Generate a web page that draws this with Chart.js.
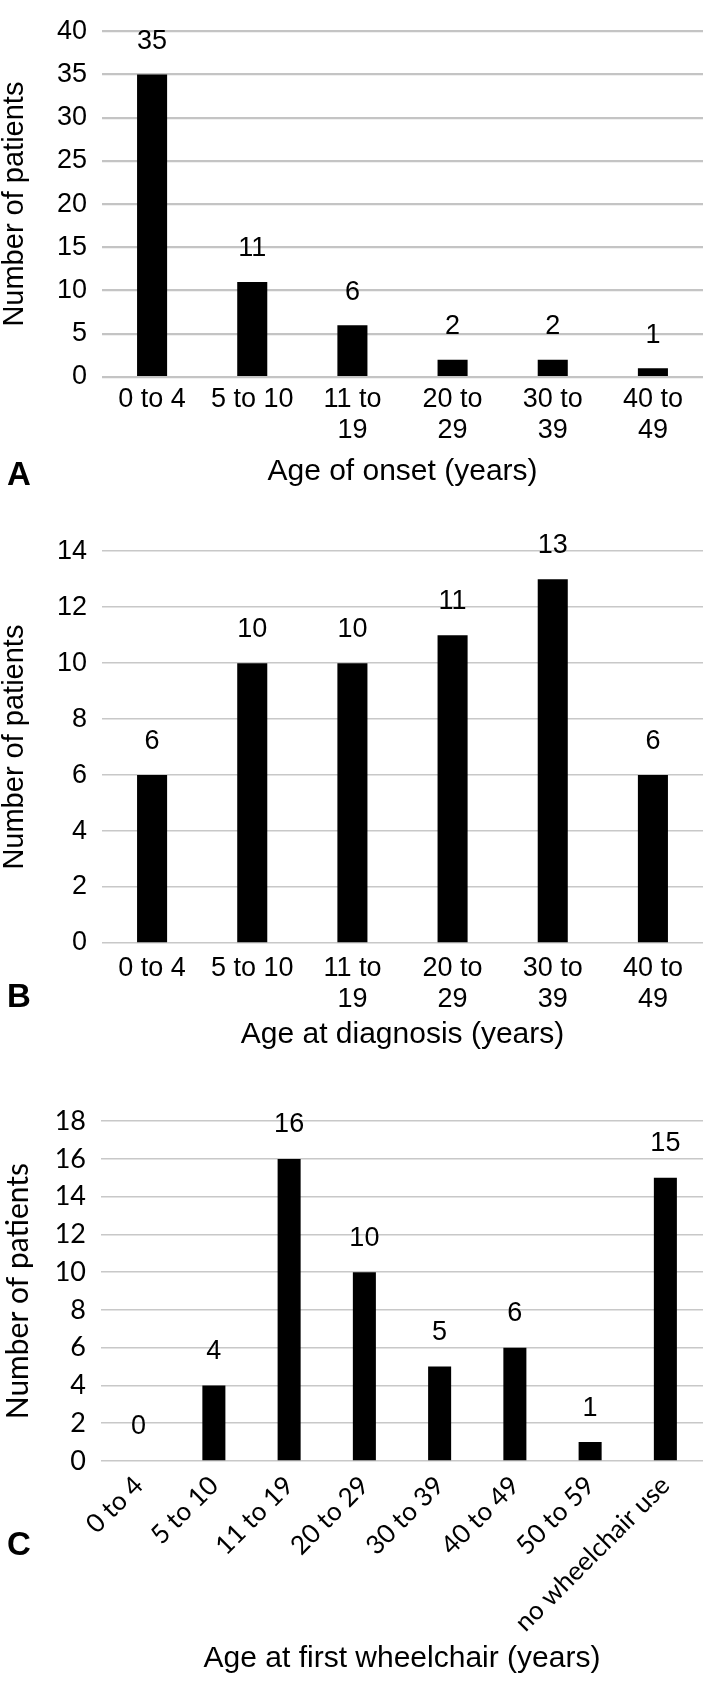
<!DOCTYPE html>
<html>
<head>
<meta charset="utf-8">
<script src="https://cdn.jsdelivr.net/npm/chart.js@4.4.1/dist/chart.umd.min.js"></script>
<style>
  html, body { margin: 0; padding: 0; background: #fff; }
  body { width: 709px; height: 1687px; position: relative; overflow: hidden; }
  .panel { position: absolute; left: 0; width: 709px; }
  .letter { position: absolute; left: 7px; font-family: "Liberation Sans", Arial, sans-serif;
            font-weight: bold; font-size: 33px; line-height: 33px; color: #000; }
</style>
</head>
<body>
<div class="panel" style="top:0px;height:490px"><canvas id="chartA" width="709" height="490"></canvas></div>
<div class="panel" style="top:520px;height:533px"><canvas id="chartB" width="709" height="533"></canvas></div>
<div class="panel" style="top:1090px;height:587px"><canvas id="chartC" width="709" height="587"></canvas></div>
<div class="letter" style="top:457px">A</div>
<div class="letter" style="top:979px">B</div>
<div class="letter" style="top:1527px">C</div>
<script>
// ---- data ----
const onsetCategories = ['0 to 4', '5 to 10', ['11 to', '19'], ['20 to', '29'], ['30 to', '39'], ['40 to', '49']];
const onsetCounts = [35, 11, 6, 2, 2, 1];
const onsetAxisMax = 40;
const onsetAxisStep = 5;

const diagnosisCategories = ['0 to 4', '5 to 10', ['11 to', '19'], ['20 to', '29'], ['30 to', '39'], ['40 to', '49']];
const diagnosisCounts = [6, 10, 10, 11, 13, 6];
const diagnosisAxisMax = 14;
const diagnosisAxisStep = 2;

const wheelchairCategories = ['0 to 4', '5 to 10', '11 to 19', '20 to 29', '30 to 39', '40 to 49', '50 to 59', 'no wheelchair use'];
const wheelchairCounts = [0, 4, 16, 10, 5, 6, 1, 15];
const wheelchairAxisMax = 18;
const wheelchairAxisStep = 2;

const yTitle = 'Number of patients';
const xTitleA = 'Age of onset (years)';
const xTitleB = 'Age at diagnosis (years)';
const xTitleC = 'Age at first wheelchair (years)';

const ARIAL = '"Liberation Sans", Arial, sans-serif';
const CALI = 'Lato, "Open Sans", sans-serif';

// ---- plugin: value labels above bars ----
const valueLabels = {
  id: 'valueLabels',
  afterDatasetsDraw(chart, args, opts) {
    const ctx = chart.ctx;
    const meta = chart.getDatasetMeta(0);
    const values = chart.data.datasets[0].data;
    ctx.save();
    ctx.font = opts.font;
    ctx.fillStyle = '#000';
    ctx.textAlign = 'center';
    ctx.textBaseline = 'middle';
    meta.data.forEach((bar, i) => {
      ctx.fillText(String(values[i]), bar.x, bar.y - opts.offset);
    });
    ctx.restore();
  }
};

function makeChart(id, cfg) {
  return new Chart(document.getElementById(id), {
    type: 'bar',
    data: {
      labels: cfg.labels,
      datasets: [{
        data: cfg.values,
        backgroundColor: '#000',
        borderWidth: 0,
        barPercentage: cfg.barPct,
        categoryPercentage: 1
      }]
    },
    plugins: [valueLabels],
    options: {
      responsive: false,
      animation: false,
      events: [],
      layout: { padding: { top: cfg.padTop, right: 6, bottom: 0, left: 0 } },
      plugins: {
        legend: { display: false },
        tooltip: { enabled: false },
        valueLabels: { font: '27px ' + ARIAL, offset: cfg.labelOffset }
      },
      scales: {
        x: {
          grid: { display: false, drawTicks: false },
          border: { display: false },
          ticks: {
            color: '#000',
            font: { family: cfg.xTickFamily, size: cfg.xTickSize, lineHeight: cfg.xTickLH },
            padding: cfg.xTickPad,
            autoSkip: false,
            minRotation: cfg.rotation,
            maxRotation: cfg.rotation
          },
          title: {
            display: true,
            text: cfg.xTitle,
            color: '#000',
            font: { family: ARIAL, size: 30, lineHeight: 1.2 },
            padding: { top: 0, bottom: 0 }
          },
          afterFit(scale) { scale.height = cfg.xHeight; }
        },
        y: {
          min: 0,
          max: cfg.max,
          grid: { color: cfg.gridColor, lineWidth: cfg.gridWidth, drawTicks: false },
          border: { display: false },
          ticks: {
            stepSize: cfg.step,
            autoSkip: false,
            color: '#000',
            padding: 15,
            font: { family: cfg.yTickFamily, size: cfg.yTickSize }
          },
          title: {
            display: true,
            text: yTitle,
            color: '#000',
            font: { family: cfg.yTitleFamily, size: cfg.yTitleSize, lineHeight: 1.2 },
            padding: { top: cfg.yTitlePad, bottom: 0 }
          },
          afterFit(scale) { scale.width = cfg.yWidth; }
        }
      }
    }
  });
}

makeChart('chartA', {
  labels: onsetCategories, values: onsetCounts, max: onsetAxisMax, step: onsetAxisStep,
  barPct: 0.3, padTop: 22, xHeight: 113, yWidth: 102, xTitle: xTitleA,
  xTickFamily: ARIAL, xTickSize: 27, xTickLH: 1.15, xTickPad: 7, rotation: 0,
  yTickFamily: ARIAL, yTickSize: 27, yTitleFamily: ARIAL, yTitleSize: 29, yTitlePad: -2,
  gridColor: '#c4c4c4', gridWidth: 2.2, labelOffset: 33
});

makeChart('chartB', {
  labels: diagnosisCategories, values: diagnosisCounts, max: diagnosisAxisMax, step: diagnosisAxisStep,
  barPct: 0.3, padTop: 26.5, xHeight: 110, yWidth: 102, xTitle: xTitleB,
  xTickFamily: ARIAL, xTickSize: 27, xTickLH: 1.15, xTickPad: 10, rotation: 0,
  yTickFamily: ARIAL, yTickSize: 27, yTitleFamily: ARIAL, yTitleSize: 29, yTitlePad: -2,
  gridColor: '#c8c8c8', gridWidth: 1.5, labelOffset: 34
});

makeChart('chartC', {
  labels: wheelchairCategories, values: wheelchairCounts, max: wheelchairAxisMax, step: wheelchairAxisStep,
  barPct: 0.306, padTop: 22, xHeight: 216, yWidth: 101, xTitle: xTitleC,
  xTickFamily: CALI, xTickSize: 26, xTickLH: 1.0, xTickPad: 11, rotation: 45,
  yTickFamily: CALI, yTickSize: 27, yTitleFamily: CALI, yTitleSize: 30, yTitlePad: 0,
  gridColor: '#c8c8c8', gridWidth: 1.5, labelOffset: 34
});
</script>
</body>
</html>
